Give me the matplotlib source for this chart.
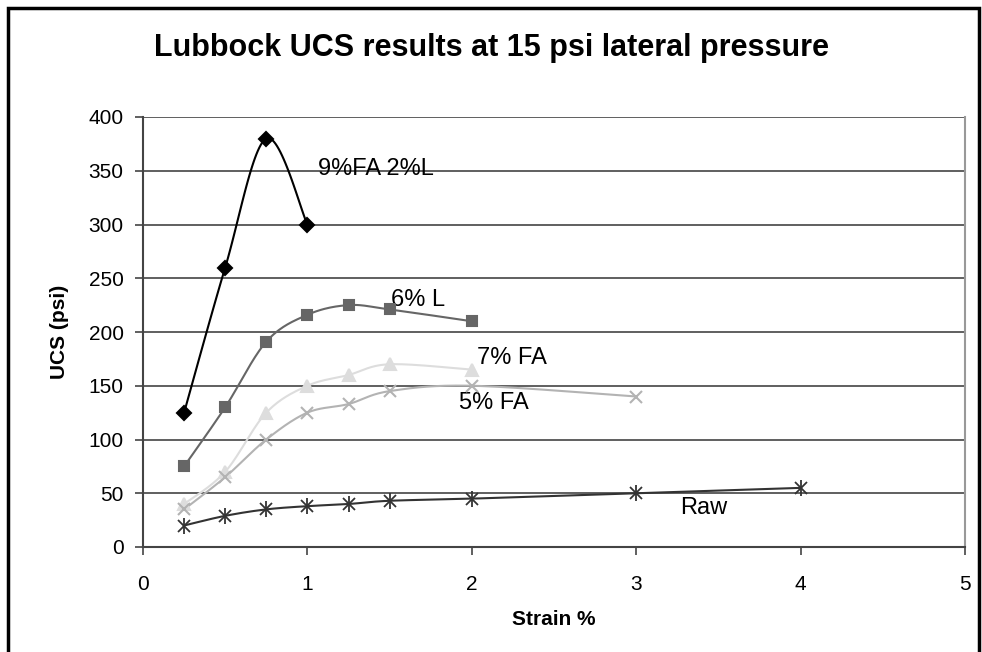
import numpy as np
import matplotlib
matplotlib.use("Agg")
from matplotlib import pyplot as plt
from matplotlib.patches import Rectangle

plt.rcParams['font.family'] = ['Liberation Sans', 'DejaVu Sans']

# Werte
strain_9fa2l = [0.25, 0.5, 0.75, 1.0]
ucs_9fa2l = [125, 260, 380, 300]

strain_6l = [0.25, 0.5, 0.75, 1.0, 1.25, 1.5, 2.0]
ucs_6l = [75, 130, 191, 216, 225, 221, 210]

strain_7fa = [0.25, 0.5, 0.75, 1.0, 1.25, 1.5, 2.0]
ucs_7fa = [40, 70, 125, 150, 160, 170, 165]

strain_5fa = [0.25, 0.5, 0.75, 1.0, 1.25, 1.5, 2.0, 3.0]
ucs_5fa = [35, 65, 100, 125, 133, 145, 150, 140]

strain_raw = [0.25, 0.5, 0.75, 1.0, 1.25, 1.5, 2.0, 3.0, 4.0]
ucs_raw = [20, 29, 35, 38, 40, 43, 45, 50, 55]

x_ticks = [0, 1, 2, 3, 4, 5]
y_ticks = [0, 50, 100, 150, 200, 250, 300, 350, 400]


def smooth(xs, ys, n=30):
    # geglaettete Linie wie in Excel (Catmull-Rom Bezier)
    xs = np.asarray(xs, float)
    ys = np.asarray(ys, float)
    px = np.concatenate([[xs[0]], xs, [xs[-1]]])
    py = np.concatenate([[ys[0]], ys, [ys[-1]]])
    out_x, out_y = [], []
    t = np.linspace(0, 1, n)
    for i in range(1, len(px) - 2):
        p0 = np.array([px[i], py[i]])
        p3 = np.array([px[i + 1], py[i + 1]])
        p1 = p0 + (np.array([px[i + 1], py[i + 1]]) - np.array([px[i - 1], py[i - 1]])) / 6
        p2 = p3 - (np.array([px[i + 2], py[i + 2]]) - np.array([px[i], py[i]])) / 6
        bx = (1 - t) ** 3 * p0[0] + 3 * (1 - t) ** 2 * t * p1[0] + 3 * (1 - t) * t ** 2 * p2[0] + t ** 3 * p3[0]
        by = (1 - t) ** 3 * p0[1] + 3 * (1 - t) ** 2 * t * p1[1] + 3 * (1 - t) * t ** 2 * p2[1] + t ** 3 * p3[1]
        out_x.extend(bx)
        out_y.extend(by)
    return out_x, out_y


fig = plt.figure(figsize=(9.82, 6.52), dpi=100)
ax = fig.add_axes([143 / 982, 1 - 547 / 652, 822 / 982, 430 / 652])

series = [
    (strain_9fa2l, ucs_9fa2l, '#000000', 'D', 7),
    (strain_6l, ucs_6l, '#666666', 's', 7),
    (strain_7fa, ucs_7fa, '#dddddd', '^', 8),
    (strain_5fa, ucs_5fa, '#b3b3b3', 'x', 9),
]
for xs, ys, col, mk, ms in series:
    sx, sy = smooth(xs, ys)
    ax.plot(sx, sy, color=col, lw=1.5, zorder=3)
    ax.plot(xs, ys, ls='none', marker=mk, color=col, ms=ms, mew=1.5, zorder=4)

sx, sy = smooth(strain_raw, ucs_raw)
ax.plot(sx, sy, color='#333333', lw=1.5, zorder=3)
ax.plot(strain_raw, ucs_raw, ls='none', marker='x', color='#333333', ms=9, mew=1.3, zorder=4)
ax.plot(strain_raw, ucs_raw, ls='none', marker='|', color='#333333', ms=12, mew=1.3, zorder=4)

# Beschriftungen der Kurven
fs = 17
ax.text(1.065, 352, '9%FA 2%L', fontsize=fs, va='center', ha='left')
ax.text(1.51, 230, '6% L', fontsize=fs, va='center', ha='left')
ax.text(2.03, 176, '7% FA', fontsize=fs, va='center', ha='left')
ax.text(1.92, 134, '5% FA', fontsize=fs, va='center', ha='left')
ax.text(3.27, 36, 'Raw', fontsize=fs, va='center', ha='left')

ax.set_xlim(0, 5)
ax.set_ylim(0, 400)
ax.set_xticks(x_ticks)
ax.set_yticks(y_ticks)
ax.yaxis.grid(True, color='#444444', lw=1.2)
ax.set_axisbelow(True)
ax.tick_params(axis='both', labelsize=15, length=6, width=1.2, color='#444444', direction='out', pad=8)
ax.tick_params(axis='x', pad=14)
for s in ['left', 'bottom']:
    ax.spines[s].set_color('#444444')
    ax.spines[s].set_linewidth(1.5)
ax.spines['top'].set_visible(False)
ax.spines['right'].set_color('#999999')
ax.spines['right'].set_linewidth(1.5)

ax.set_xlabel('Strain %', fontsize=15, fontweight='bold', labelpad=12)
ax.set_ylabel('UCS (psi)', fontsize=15, fontweight='bold', labelpad=14)
fig.text(0.5, 1 - 48 / 652, 'Lubbock UCS results at 15 psi lateral pressure',
         ha='center', va='center', fontsize=22, fontweight='bold')

# Rahmen um das Diagramm
fig.patches.append(Rectangle((8 / 982, -0.1), 971 / 982, 1 - 8 / 652 + 0.1, transform=fig.transFigure,
                             fill=False, ec='black', lw=2.5))

fig.savefig('out.png', dpi=100)
